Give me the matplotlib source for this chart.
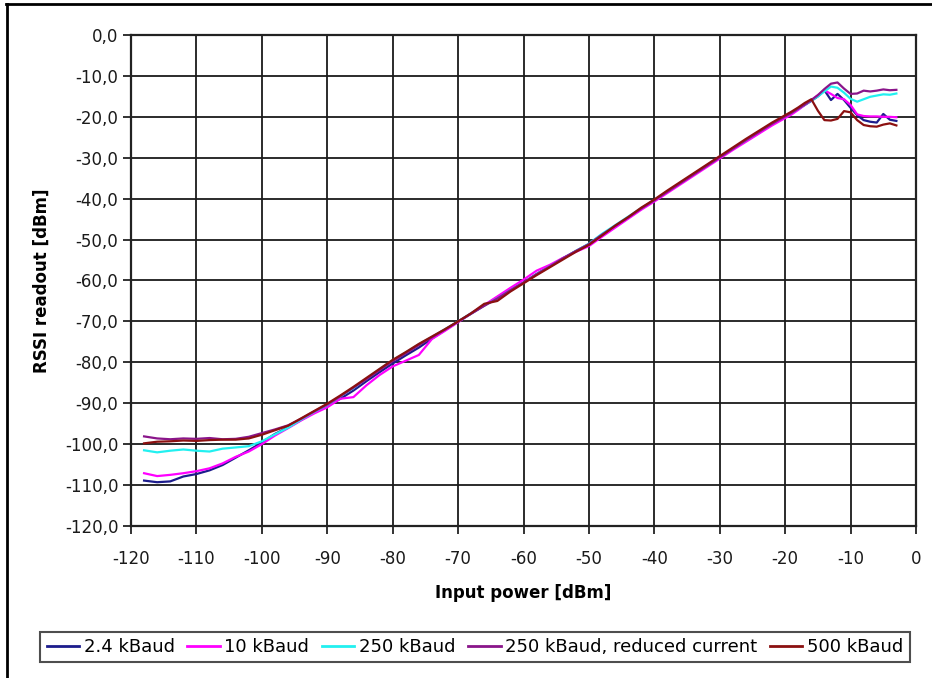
import matplotlib
matplotlib.use("Agg")
import matplotlib.pyplot as plt
from matplotlib.ticker import FuncFormatter, MultipleLocator
from matplotlib.lines import Line2D

plt.rcParams['font.family'] = ['DejaVu Sans']

# input power [dBm]
power = [-118, -116, -114, -112, -110, -108, -106, -104, -102, -100,
         -98, -96, -94, -92, -90, -88, -86, -84, -82, -80,
         -78, -76, -74, -72, -70, -68, -66, -64, -62, -60,
         -58, -56, -54, -52, -50, -48, -46, -44, -42, -40,
         -38, -36, -34, -32, -30, -28, -26, -24, -22, -20,
         -19, -18, -17, -16, -15, -14, -13, -12, -11, -10,
         -9, -8, -7, -6, -5, -4, -3]

rssi_2k4 = [-108.9, -109.3, -109.1, -107.9, -107.3, -106.4, -105.1, -103.3, -101.5, -99.6,
            -97.5, -95.9, -94.1, -92.2, -90.6, -88.9, -86.9, -84.6, -82.4, -80.3,
            -78.3, -76.4, -74.2, -72.1, -70.1, -68.1, -66.1, -64.1, -62.3, -60.5,
            -58.4, -56.5, -54.6, -52.8, -51.1, -48.8, -46.8, -44.7, -42.5, -40.4,
            -38.3, -36.2, -34.1, -32.0, -29.9, -27.8, -25.8, -23.8, -21.8, -19.9,
            -19.0, -18.1, -17.1, -16.1, -15.0, -13.5, -15.9, -14.4, -15.9, -17.8,
            -19.6, -20.8, -21.2, -21.4, -19.3, -20.7, -21.0]

rssi_10k = [-107.1, -107.8, -107.5, -107.1, -106.6, -105.9, -104.7, -103.1, -101.8, -100.0,
            -97.9, -96.1, -94.2, -92.5, -91.0, -88.9, -88.5, -85.6, -83.1, -81.0,
            -79.6, -78.2, -74.3, -72.3, -70.2, -68.0, -66.0, -63.9, -61.8, -59.8,
            -57.6, -56.2, -54.5, -53.0, -51.6, -49.3, -47.1, -44.9, -42.7, -40.7,
            -38.6, -36.5, -34.4, -32.3, -30.2, -28.1, -26.1, -24.1, -22.1, -20.3,
            -19.4, -18.3, -17.1, -15.9, -14.7, -13.5, -14.4, -15.4, -15.7, -17.1,
            -19.4, -19.8, -19.9, -19.9, -20.0, -20.0, -20.1]

rssi_250k = [-101.5, -102.0, -101.6, -101.3, -101.6, -101.8, -101.1, -100.8, -100.5, -99.3,
             -97.6, -96.0, -94.0, -92.1, -90.4, -88.3, -86.3, -84.0, -81.7, -79.5,
             -77.6, -75.6, -73.8, -71.9, -70.0, -68.0, -66.1, -64.4, -62.4, -60.6,
             -58.5, -56.6, -54.7, -52.8, -51.0, -48.6, -46.5, -44.4, -42.3, -40.3,
             -38.2, -36.1, -34.0, -31.9, -29.8, -27.7, -25.7, -23.6, -21.6, -19.8,
             -18.9, -18.0, -17.0, -16.0, -15.0, -13.8, -12.6, -12.9, -14.1, -15.6,
             -16.3, -15.7, -15.1, -14.8, -14.5, -14.6, -14.3]

rssi_250k_rc = [-98.1, -98.6, -98.8, -98.6, -98.7, -98.5, -98.8, -98.7, -98.2, -97.3,
                -96.4, -95.4, -93.8, -92.0, -90.3, -88.3, -86.2, -84.1, -81.9, -79.7,
                -77.8, -75.8, -73.9, -72.0, -70.0, -68.1, -66.2, -64.4, -62.4, -60.5,
                -58.5, -56.6, -54.6, -52.8, -51.1, -48.8, -46.7, -44.6, -42.4, -40.4,
                -38.3, -36.2, -34.1, -32.0, -29.9, -27.8, -25.7, -23.7, -21.7, -19.9,
                -19.0, -18.0, -17.0, -15.9, -14.7, -13.2, -11.9, -11.6, -13.1, -14.4,
                -14.3, -13.6, -13.8, -13.6, -13.3, -13.5, -13.4]

rssi_500k = [-99.8, -99.4, -99.3, -99.1, -99.2, -99.0, -98.9, -98.9, -98.6, -97.7,
             -96.6, -95.5, -93.7, -91.9, -90.1, -88.1, -86.0, -83.8, -81.6, -79.4,
             -77.5, -75.5, -73.7, -71.9, -70.0, -68.0, -65.7, -65.0, -62.7, -60.7,
             -58.7, -56.8, -54.9, -53.0, -51.3, -49.0, -46.6, -44.5, -42.2, -40.2,
             -38.0, -35.9, -33.8, -31.7, -29.6, -27.5, -25.4, -23.4, -21.4, -19.6,
             -18.7, -17.7, -16.6, -15.7, -18.5, -20.8, -20.9, -20.5, -18.6, -18.9,
             -20.8, -22.0, -22.3, -22.4, -21.9, -21.6, -22.1]

series = [
    ("2.4 kBaud", rssi_2k4, "#1c1c8c"),
    ("10 kBaud", rssi_10k, "#ff00ff"),
    ("250 kBaud", rssi_250k, "#22f0f0"),
    ("250 kBaud, reduced current", rssi_250k_rc, "#8a158a"),
    ("500 kBaud", rssi_500k, "#8b1010"),
]

fig = plt.figure(figsize=(9.32, 6.78), dpi=100)
ax = fig.add_axes([131 / 932, 1 - 526 / 678, 785 / 932, 491 / 678])

for name, vals, col in series:
    ax.plot(power, vals, color=col, lw=1.6, label=name)

ax.set_xlim(-120, 0)
ax.set_ylim(-120, 0)
ax.xaxis.set_major_locator(MultipleLocator(10))
ax.yaxis.set_major_locator(MultipleLocator(10))
ax.yaxis.set_major_formatter(FuncFormatter(lambda v, p: f"{v:.1f}".replace('.', ',')))
ax.xaxis.set_major_formatter(FuncFormatter(lambda v, p: f"{v:.0f}"))
ax.grid(True, color="#1a1a1a", lw=1.3)
ax.set_axisbelow(True)
for s in ax.spines.values():
    s.set_color("#222222")
    s.set_linewidth(1.6)
ax.tick_params(direction='out', length=6, width=1.3, color="#222222",
               labelsize=12, colors="#1a1a1a")
ax.tick_params(axis='y', pad=3)
ax.tick_params(axis='x', pad=11)

ax.set_xlabel("Input power [dBm]", fontsize=12, fontweight='bold', labelpad=12)
ax.set_ylabel("RSSI readout [dBm]", fontsize=12, fontweight='bold', labelpad=10)

leg = fig.legend(loc='center', bbox_to_anchor=(475 / 932, 1 - 647 / 678), ncol=5,
                 fontsize=13, frameon=True, fancybox=False, handlelength=1.8,
                 handletextpad=0.25, columnspacing=0.7, borderpad=0.35,
                 borderaxespad=0)
leg.get_frame().set_edgecolor("#222222")
leg.get_frame().set_linewidth(1.5)
for ln in leg.get_lines():
    ln.set_linewidth(2.0)

# page frame lines
fig.add_artist(Line2D([6 / 932, 1], [1 - 4 / 678, 1 - 4 / 678], color="black", lw=2))
fig.add_artist(Line2D([7 / 932, 7 / 932], [0, 1 - 4 / 678], color="black", lw=2))

fig.savefig("out.png", dpi=100)
